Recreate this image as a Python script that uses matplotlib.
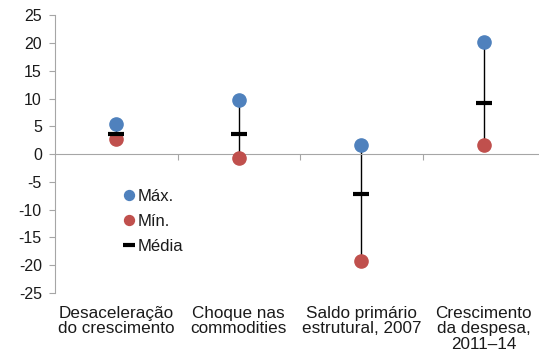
import numpy as np
from matplotlib import pyplot as plt

plt.rcParams['font.family'] = ['Liberation Sans', 'DejaVu Sans']
plt.rcParams['axes.unicode_minus'] = False

categorias = ['Desaceleração\ndo crescimento', 'Choque nas\ncommodities',
              'Saldo primário\nestrutural, 2007', 'Crescimento\nda despesa,\n2011–14']
maximo = [5.4, 9.7, 1.6, 20.2]
minimo = [2.8, -0.7, -19.3, 1.6]
media = [3.6, 3.7, -7.2, 9.2]

azul = '#4F81BD'
vermelho = '#C0504D'
cinza = '#A6A6A6'
texto = '#1A1A1A'

fig = plt.figure(figsize=(5.39, 3.58), dpi=100)
ax = fig.add_axes([55 / 539, 65 / 358, 490 / 539, 277.7 / 358])

x = np.arange(len(categorias))

ax.vlines(x, minimo, maximo, color='black', linewidth=1, zorder=2)
ax.plot(x, maximo, 'o', color=azul, markersize=9.5, linestyle='none', label='Máx.', zorder=3)
ax.plot(x, minimo, 'o', color=vermelho, markersize=9.5, linestyle='none', label='Mín.', zorder=3)
ax.plot(x, media, '_', color='black', markersize=11, markeredgewidth=3, linestyle='none',
        label='Média', zorder=4)

ax.set_xlim(-0.5, 3.5)
ax.set_ylim(-25, 25)
ax.set_yticks(np.arange(-25, 26, 5))
ax.tick_params(axis='y', labelsize=11.5, labelcolor=texto, direction='out', length=4.5,
               color=cinza, pad=5)

# eixo x passa no zero, rótulos das categorias ficam embaixo
for lado in ['top', 'right']:
    ax.spines[lado].set_visible(False)
ax.spines['bottom'].set_position(('data', 0))
ax.spines['bottom'].set_color(cinza)
ax.spines['left'].set_color(cinza)
ax.set_xticks(x + 0.5)
ax.set_xticklabels([])
ax.tick_params(axis='x', direction='out', length=4, color=cinza)

for i, nome in enumerate(categorias):
    ax.text(x[i], -27.3, nome, ha='center', va='top', fontsize=12.3, color=texto,
            linespacing=1.05)

leg = ax.legend(loc='upper left', bbox_to_anchor=(0.11, 0.43), frameon=False, fontsize=12,
                handlelength=0.6, handletextpad=0.25, labelspacing=0.6, markerscale=0.75,
                labelcolor=texto)

fig.savefig('out.png', dpi=100)
